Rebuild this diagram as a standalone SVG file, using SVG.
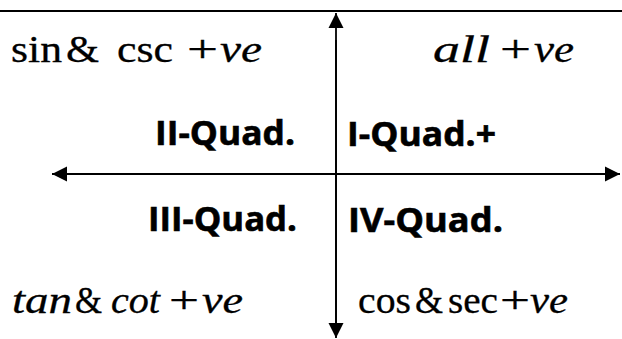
<svg xmlns="http://www.w3.org/2000/svg" width="622" height="339" viewBox="0 0 622 339">
<style>
.m{font-family:"Liberation Serif","DejaVu Serif",serif;font-size:37px;fill:#000;stroke:#000;stroke-width:0.3}
.i{font-style:italic}
.q{font-family:"Open Sans","Liberation Sans",sans-serif;font-weight:bold;font-size:34px;fill:#000;stroke:#000;stroke-width:0.6}
.ax{stroke:#000;stroke-width:1.8;fill:none}
</style>
<defs>
<marker id="ah" viewBox="0 0 16 16" refX="15" refY="8" markerWidth="16" markerHeight="16" markerUnits="userSpaceOnUse" orient="auto">
<path d="M0,0.5 L15,8 L0,15.5 Z" fill="#000"/>
</marker>
</defs>
<rect width="622" height="339" fill="#fff"/>
<line x1="0" y1="11" x2="622" y2="11" stroke="#000" stroke-width="2.2"/>
<g id="connectors">
<line class="ax" x1="336" y1="327" x2="336" y2="13" marker-end="url(#ah)"/>
<line class="ax" x1="336" y1="40" x2="336" y2="338" marker-end="url(#ah)"/>
<line class="ax" x1="336" y1="174" x2="52" y2="174" marker-end="url(#ah)"/>
<line class="ax" x1="336" y1="174" x2="620" y2="174" marker-end="url(#ah)"/>
</g>
<g id="q2">
<text class="m" y="62"><tspan x="11" textLength="51" lengthAdjust="spacingAndGlyphs">sin</tspan> <tspan x="66" textLength="33" lengthAdjust="spacingAndGlyphs">&amp;</tspan>  <tspan x="117" textLength="56" lengthAdjust="spacingAndGlyphs">csc</tspan>  <tspan x="187" textLength="31" lengthAdjust="spacingAndGlyphs">+</tspan><tspan x="220" class="i" textLength="42" lengthAdjust="spacingAndGlyphs">ve</tspan></text>
<text class="q" x="155" y="145" textLength="140" lengthAdjust="spacingAndGlyphs">II-Quad.</text>
</g>
<g id="q1">
<text class="m" y="62"><tspan x="433" class="i" textLength="57" lengthAdjust="spacingAndGlyphs">all</tspan> <tspan x="500" textLength="31" lengthAdjust="spacingAndGlyphs">+</tspan> <tspan x="534" class="i" textLength="40" lengthAdjust="spacingAndGlyphs">ve</tspan></text>
<text class="q" x="347" y="146" textLength="149" lengthAdjust="spacingAndGlyphs">I-Quad.+</text>
</g>
<g id="q3">
<text class="q" x="148" y="231" textLength="149" lengthAdjust="spacingAndGlyphs">III-Quad.</text>
<text class="m" y="313"><tspan x="12" class="i" textLength="60" lengthAdjust="spacingAndGlyphs">tan</tspan> <tspan x="75" textLength="27" lengthAdjust="spacingAndGlyphs">&amp;</tspan> <tspan x="111" class="i" textLength="49" lengthAdjust="spacingAndGlyphs">cot</tspan> <tspan x="169" textLength="30" lengthAdjust="spacingAndGlyphs">+</tspan> <tspan x="202" class="i" textLength="41" lengthAdjust="spacingAndGlyphs">ve</tspan></text>
</g>
<g id="q4">
<text class="q" x="348" y="232" textLength="155" lengthAdjust="spacingAndGlyphs">IV-Quad.</text>
<text class="m" y="313"><tspan x="358" textLength="53" lengthAdjust="spacingAndGlyphs">cos</tspan> <tspan x="415" textLength="28" lengthAdjust="spacingAndGlyphs">&amp;</tspan> <tspan x="448" textLength="50" lengthAdjust="spacingAndGlyphs">sec</tspan> <tspan x="500" textLength="30" lengthAdjust="spacingAndGlyphs">+</tspan><tspan x="530" class="i" textLength="38" lengthAdjust="spacingAndGlyphs">ve</tspan></text>
</g>
</svg>
